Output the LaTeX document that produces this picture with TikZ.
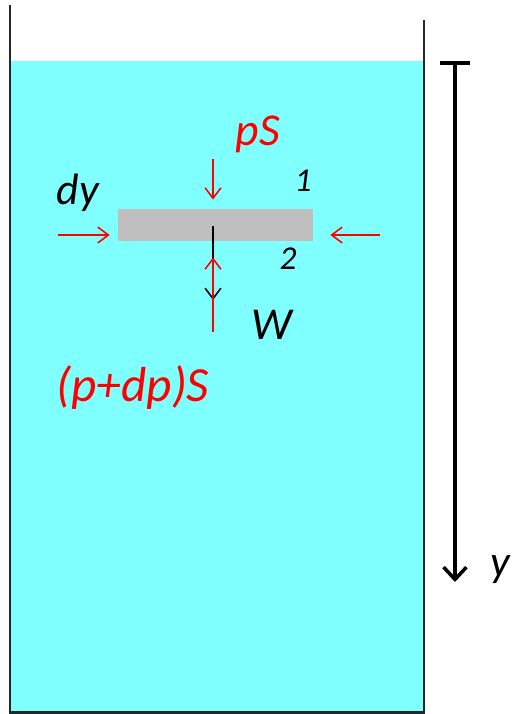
\documentclass[tikz,border=0pt]{standalone}
\usepackage{fontspec}
\setmainfont{Carlito}
\usetikzlibrary{positioning, arrows.meta}
\definecolor{water}{RGB}{128,255,255}

\begin{document}
\begin{tikzpicture}[x=0.02cm, y=-0.02cm,
        wall/.style={line width=1.7pt, draw=black!85},
        force/.style={-{Straight Barb[length=6pt, width=9pt]}, red, line width=0.9pt},
        weight/.style={-{Straight Barb[length=6pt, width=9pt]}, black, line width=0.9pt},
        axis/.style={{Bar[width=17pt]}-{Straight Barb[length=7pt, width=13pt]}, line width=2pt},
        lbl/.style={font=\itshape\fontsize{26}{30}\selectfont, inner sep=0pt},
        num/.style={font=\itshape\fontsize{19}{22}\selectfont, inner sep=0pt}
    ]
        \useasboundingbox (0,0) rectangle (512,714);

        % Tank
        \fill[water] (10,61) rectangle (424,712);
        \draw[wall] (10,5) -- (10,712) -- (424,712) -- (424,20);

        % Slab
        \node[rectangle, fill=gray!50, minimum width=3.9cm, minimum height=0.64cm, inner sep=0pt] (slab) at (215.5,225) {};
        \coordinate (cg) at (213,226);

        % Ends of the forces
        \coordinate (top) at (213,159);
        \coordinate (left) at (58,235);
        \coordinate (right) at (380,235);
        \coordinate (bottom) at (213,332);
        \coordinate (wtip) at (213,300);
        \coordinate (axtop) at (455,61);
        \coordinate (axbot) at (455,582);

        % Labels
        \node[lbl, red] (ps) at (258,134) {pS};
        \node[lbl, font=\itshape\fontsize{25}{29}\selectfont] (dy) at (78,193) {dy};
        \node[num] (one) at (303,181) {1};
        \node[num] (two) at (288,259) {2};
        \node[lbl] (w) at (272,325) {W};
        \node[lbl, red, font=\itshape\fontsize{28}{32}\selectfont] (pdps) at (133,387) {(p+dp)S};
        \node[lbl, font=\itshape\fontsize{25}{29}\selectfont] (yl) at (500,570) {y};

        % Forces
        \draw[force] (top) -- ([yshift=0.18cm]slab.north -| top);
        \draw[force] (left) -- ([xshift=-0.16cm]slab.west |- left);
        \draw[force] (right) -- ([xshift=0.34cm]slab.east |- right);
        \draw[weight] (cg) -- (wtip);
        \draw[force] (bottom) -- ([yshift=-0.32cm]slab.south -| bottom);

        % Depth axis
        \draw[axis] (axtop) -- (axbot);
    \end{tikzpicture}
\end{document}
